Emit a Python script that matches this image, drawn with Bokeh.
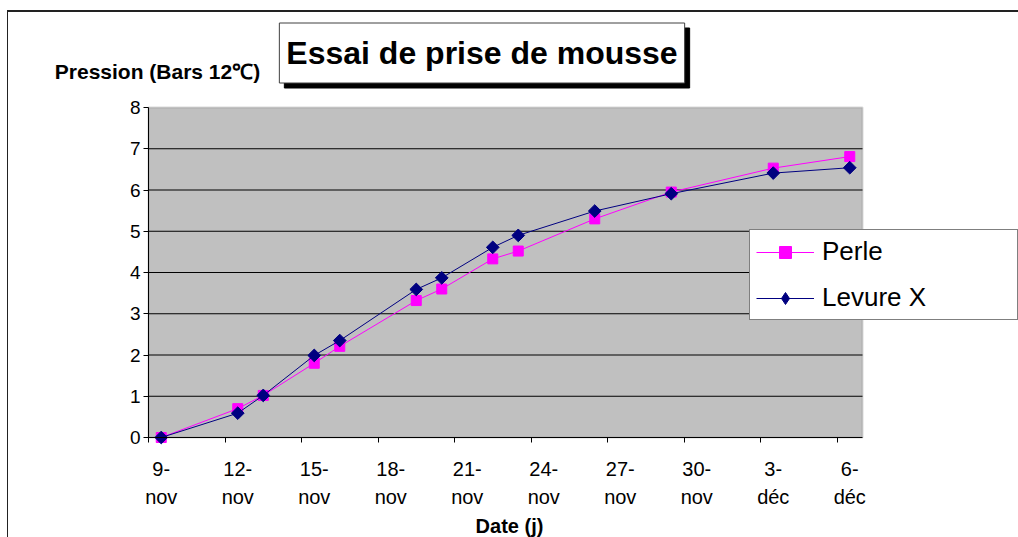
from datetime import date

import numpy as np
from bokeh.plotting import figure
from bokeh.models import (Range1d, FixedTicker, LinearAxis, Legend, LegendItem,
                          Label, BoxAnnotation)
from bokeh.embed import file_html
from bokeh.resources import INLINE

# ---------------- data ----------------
dates = ["2008-11-09", "2008-11-12", "2008-11-13", "2008-11-15", "2008-11-16",
         "2008-11-19", "2008-11-20", "2008-11-22", "2008-11-23", "2008-11-26",
         "2008-11-29", "2008-12-03", "2008-12-06"]
perle = [0.00, 0.70, 1.02, 1.80, 2.21, 3.32, 3.60, 4.33, 4.52, 5.30, 5.95, 6.53, 6.81]
levure_x = [0.00, 0.59, 1.02, 1.99, 2.35, 3.59, 3.87, 4.61, 4.90, 5.49, 5.91, 6.41, 6.54]

tick_days = ["9-", "12-", "15-", "18-", "21-", "24-", "27-", "30-", "3-", "6-"]
tick_months = ["nov", "nov", "nov", "nov", "nov", "nov", "nov", "nov", "déc", "déc"]
y_ticks = [0, 1, 2, 3, 4, 5, 6, 7, 8]

FONT = "Liberation Sans"

start = date.fromisoformat(dates[0])
days = [(date.fromisoformat(d) - start).days for d in dates]
label_pos = [3 * i for i in range(len(tick_days))]
bound_pos = [t - 0.5 for t in label_pos]
x_lo, x_hi = -0.5, label_pos[-1] + 0.5          # plot-area extent (days)
y_lo, y_hi = y_ticks[0], y_ticks[-1]

# ---------------- canvas geometry (pixels) ----------------
W, H = 1018, 537
PL, PR, PT, PB = 148, 862, 107, 437                # plot area box on canvas
kx = (x_hi - x_lo) / (PR - PL)                     # days per pixel
ky = (y_hi - y_lo) / (PB - PT)                     # bars per pixel

p = figure(width=W, height=H,
           x_range=Range1d(x_lo - PL * kx, x_hi + (W - PR) * kx),
           y_range=Range1d(y_lo - (H - PB) * ky, y_hi + PT * ky),
           x_axis_type=None, y_axis_type=None,
           output_backend="svg", toolbar_location=None,
           min_border=0,
           background_fill_alpha=0, border_fill_alpha=0,
           outline_line_color=None)
p.styles = {"box-shadow": "inset 7px 10px 0 0 #ffffff, inset 8px 12px 0 0 #222222"}

# plot area
p.add_layout(BoxAnnotation(left=x_lo, right=x_hi, bottom=y_lo, top=y_hi,
                           fill_color="#C0C0C0", fill_alpha=1,
                           line_color="#808080", line_width=2, level="image"))

# horizontal grid lines, limited to the plot area
grid_y = y_ticks[1:-1]
p.segment(x0=[x_lo] * len(grid_y), x1=[x_hi] * len(grid_y), y0=grid_y, y1=grid_y,
          line_color="black", line_width=1, level="underlay")

# y axis
yaxis = LinearAxis(ticker=FixedTicker(ticks=y_ticks), fixed_location=x_lo,
                   bounds=(y_lo, y_hi),
                   major_tick_out=5, major_tick_in=0,
                   minor_tick_out=0, minor_tick_in=0,
                   major_label_standoff=3,
                   major_label_text_font=FONT, major_label_text_font_size="19px",
                   major_label_text_color="black",
                   axis_line_color="black", major_tick_line_color="black")
p.add_layout(yaxis, "left")

# x axis: first line (day) + tick marks at day boundaries
xaxis1 = LinearAxis(ticker=FixedTicker(ticks=label_pos, minor_ticks=bound_pos),
                    fixed_location=y_lo, bounds=(x_lo, x_hi),
                    major_label_overrides={k: v for k, v in zip(label_pos, tick_days)},
                    major_tick_out=0, major_tick_in=0,
                    minor_tick_out=5, minor_tick_in=0,
                    minor_tick_line_color="black",
                    major_label_standoff=19,
                    major_label_text_font=FONT, major_label_text_font_size="20px",
                    major_label_text_color="black",
                    axis_line_color="black")
p.add_layout(xaxis1, "below")

# x axis: second line (month) + axis title
xaxis2 = LinearAxis(ticker=FixedTicker(ticks=label_pos),
                    fixed_location=y_lo,
                    major_label_overrides={k: v for k, v in zip(label_pos, tick_months)},
                    major_tick_out=0, major_tick_in=0,
                    minor_tick_out=0, minor_tick_in=0,
                    axis_line_color=None, major_tick_line_color=None,
                    minor_tick_line_color=None,
                    major_label_standoff=48,
                    major_label_text_font=FONT, major_label_text_font_size="20px",
                    major_label_text_color="black",
                    axis_label="Date (j)", axis_label_standoff=4,
                    axis_label_text_font=FONT, axis_label_text_font_size="20px",
                    axis_label_text_font_style="bold", axis_label_text_color="black")
p.add_layout(xaxis2, "below")

# series
r1l = p.line(days, perle, line_color="#FF00FF", line_width=1)
r1s = p.scatter(days, perle, marker="square", size=10,
                fill_color="#FF00FF", line_color="#FF00FF")
r2l = p.line(days, levure_x, line_color="#000080", line_width=1)
r2s = p.scatter(days, levure_x, marker="square", angle=np.pi / 4, size=9,
                fill_color="#000080", line_color="#000080")
# legend-only diamond (a single non-drawable point)
r2k = p.scatter([np.nan], [np.nan], marker="diamond",
                fill_color="#000080", line_color="#000080")

LX, LY_BOTTOM = 749, 320                            # legend box on canvas
legend = Legend(items=[LegendItem(label="Perle", renderers=[r1l, r1s]),
                       LegendItem(label="Levure X", renderers=[r2l, r2k])],
                location=(LX, H - LY_BOTTOM), orientation="vertical",
                label_text_font=FONT, label_text_font_size="26px",
                label_text_color="black",
                glyph_width=58, glyph_height=30, label_height=30,
                label_width=189, label_standoff=8, spacing=15,
                padding=6, margin=0,
                border_line_color="black", border_line_width=1,
                background_fill_color="white", background_fill_alpha=1)
p.add_layout(legend, "center")


def cx(px):
    return x_lo + (px - PL) * kx


def cy(py):
    return y_lo + (PB - py) * ky


# title box with shadow
title_kw = dict(x=cx(481.5), y=cy(52.5), text="Essai de prise de mousse",
                text_font=FONT, text_font_style="bold", text_font_size="32px",
                text_align="center", text_baseline="middle",
                padding=dict(x=7, y=12))
p.add_layout(Label(x_offset=5, y_offset=-5, text_color="black",
                   background_fill_color="black", border_line_color="black",
                   **title_kw))
p.add_layout(Label(text_color="black", background_fill_color="white",
                   border_line_color="#404040", border_line_width=1, **title_kw))

# y axis title (horizontal, above the axis)
p.add_layout(Label(x=cx(157), y=cy(71), text="Pression (Bars 12℃)",
                   text_font=FONT, text_font_style="bold", text_font_size="21px",
                   text_align="center", text_baseline="middle", text_color="black"))

open("out.html", "w").write(file_html(p, INLINE))
